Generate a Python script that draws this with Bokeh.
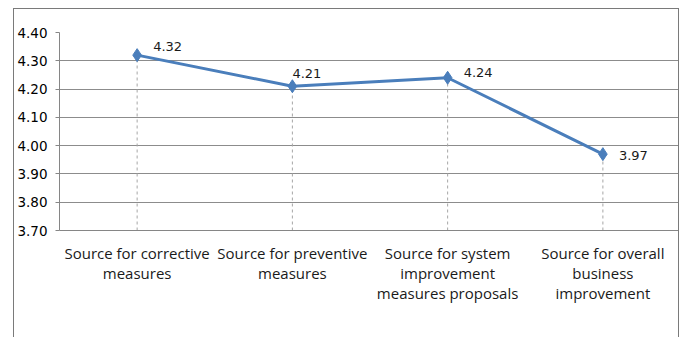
from bokeh.plotting import figure
from bokeh.models import FixedTicker, Range1d, NumeralTickFormatter
from bokeh.embed import file_html
from bokeh.resources import INLINE
from bokeh.core.properties import value

# Survey scores per information use
categories = [
    "Source for corrective\nmeasures",
    "Source for preventive\nmeasures",
    "Source for system\nimprovement\nmeasures proposals",
    "Source for overall\nbusiness\nimprovement",
]
scores = [4.32, 4.21, 4.24, 3.97]
y_ticks = [3.70, 3.80, 3.90, 4.00, 4.10, 4.20, 4.30, 4.40]

xs = [i + 0.5 for i in range(len(categories))]
labels = [f"{v:.2f}" for v in scores]

p = figure(
    width=666, height=340,
    x_range=Range1d(0, len(categories)),
    y_range=Range1d(y_ticks[0], y_ticks[-1]),
    output_backend="svg", toolbar_location=None,
    min_border_left=44, min_border_right=0,
    min_border_top=23, min_border_bottom=119,
)
# chart border around the whole canvas (bottom edge runs past the page)
p.margin = (8, 0, 0, 13)
p.styles = {"border": "1px solid #7a7a7a", "box-sizing": "border-box"}
p.outline_line_color = None
p.background_fill_color = "white"
p.border_fill_color = "white"

# y axis
p.yaxis.ticker = FixedTicker(ticks=y_ticks)
p.yaxis.formatter = NumeralTickFormatter(format="0.00")
p.yaxis.axis_line_color = "#868686"
p.yaxis.major_tick_line_color = "#868686"
p.yaxis.major_tick_out = 4
p.yaxis.major_tick_in = 0
p.yaxis.minor_tick_line_color = None
p.yaxis.major_label_text_font = "DejaVu Sans"
p.yaxis.major_label_text_font_size = "13.5px"
p.yaxis.major_label_text_color = "#000000"
p.yaxis.major_label_standoff = 8

# x axis with wrapped category names
p.xaxis.ticker = FixedTicker(ticks=xs)
p.xaxis.major_label_overrides = {x: c for x, c in zip(xs, categories)}
p.xaxis.axis_line_color = "#868686"
p.xaxis.major_tick_line_color = None
p.xaxis.minor_tick_line_color = None
p.xaxis.major_label_text_font = "Open Sans"
p.xaxis.major_label_text_font_size = "15px"
p.xaxis.major_label_text_line_height = 1.0
p.xaxis.major_label_text_color = "#1a1a1a"
p.xaxis.major_label_standoff = 6

p.xgrid.grid_line_color = None
p.ygrid.ticker = FixedTicker(ticks=y_ticks)
p.ygrid.grid_line_color = "#8c8c8c"
p.ygrid.grid_line_width = 1

# drop lines from each point to the axis
p.segment(x0=xs, y0=[y_ticks[0]] * len(xs), x1=xs, y1=scores,
          line_color="#a6a6a6", line_width=1, line_dash="3 3")

p.line(xs, scores, line_color="#4a7ebb", line_width=3)
p.scatter(xs, scores, marker="diamond", size=13, fill_color="#4a7ebb",
          line_color="#4a7ebb")

# value labels
x_off = [16, 0, 16, 16]
y_off = [-9, -13, -5, 1]
p.text(x=xs, y=scores, text=labels, x_offset=x_off, y_offset=y_off,
       text_font=value("DejaVu Sans"), text_font_size="13px",
       text_color="#1a1a1a", text_baseline="middle", text_align="left")

open("out.html", "w").write(file_html(p, INLINE))
